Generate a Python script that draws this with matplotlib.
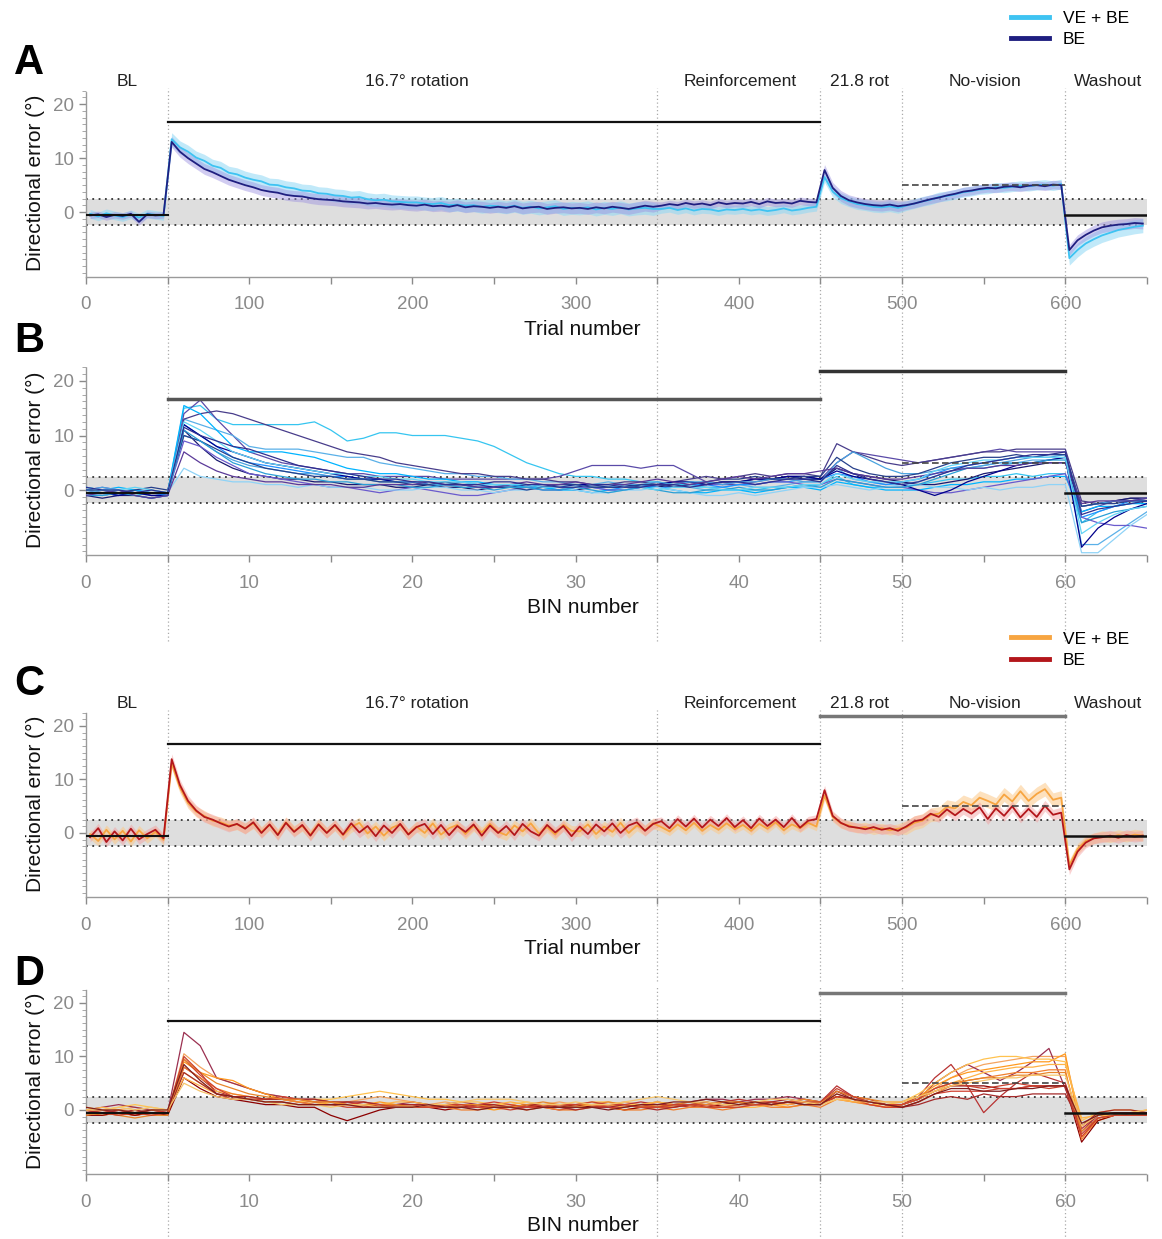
import matplotlib.pyplot as plt
from matplotlib.lines import Line2D
from matplotlib.ticker import MultipleLocator
import numpy as np

plt.rcParams['font.family'] = ['Liberation Sans', 'DejaVu Sans']

# =========================
# DATA
# =========================

# panels A / C : group means, one value per 5 trials (trial 0..650)
trial_x = np.arange(130) * 5 + 2.5
phase_edges = [0, 50, 350, 450, 500, 600, 650]

a_ve = [
    -0.3, -0.8, -0.2, -0.6, -0.9, -0.4, -1.0, -0.3, -0.5, -0.7,
    13.5, 12.0, 11.2, 10.1, 9.5, 8.6, 8.2, 7.3, 7.0, 6.4,
    6.0, 5.7, 5.1, 5.0, 4.6, 4.4, 4.0, 3.9, 3.5, 3.4,
    3.1, 3.0, 2.7, 2.8, 2.4, 2.2, 2.3, 2.0, 1.9, 1.8,
    1.8, 1.6, 1.5, 1.7, 1.3, 1.4, 1.2, 1.3, 1.0, 1.2,
    1.1, 0.9, 1.2, 0.8, 1.0, 0.7, 0.9, 1.1, 0.6, 0.8,
    0.7, 0.9, 0.5, 0.8, 0.6, 0.9, 0.5, 0.7, 0.8, 0.6,
    0.6, 0.8, 0.4, 0.7, 0.3, 0.6, 0.5, 0.2, 0.5, 0.4,
    0.6, 0.3, 0.5, 0.2, 0.4, 0.7, 0.3, 0.5, 0.8, 1.0,
    6.5, 3.8, 2.6, 2.0, 1.5, 1.3, 1.0, 0.9, 1.1, 0.8,
    1.2, 1.6, 2.0, 2.3, 2.8, 3.0, 3.3, 3.7, 3.9, 4.2,
    4.3, 4.6, 4.5, 4.7, 4.9, 4.8, 5.0, 5.1, 4.9, 5.2,
    -8.5, -7.0, -5.8, -5.0, -4.3, -3.8, -3.3, -3.0, -2.7, -2.5,
]
a_be = [
    -0.6, -0.4, -0.9, -0.5, -0.7, -0.3, -1.8, -0.4, -0.6, -0.5,
    13.0, 11.2, 10.0, 9.0, 8.0, 7.4, 6.7, 6.0, 5.5, 5.0,
    4.6, 4.1, 3.8, 3.6, 3.2, 3.0, 2.9, 2.6, 2.4, 2.3,
    2.2, 2.0, 1.9, 1.8, 1.6, 1.7, 1.5, 1.4, 1.5, 1.3,
    1.2, 1.4, 1.1, 1.2, 1.0, 1.3, 0.9, 1.1, 1.0, 0.8,
    1.0, 0.8, 1.1, 0.7, 0.9, 1.0, 0.6, 0.8, 0.9, 0.7,
    0.8, 0.6, 0.9, 0.7, 1.0, 0.8, 0.6, 0.9, 1.2, 1.0,
    1.2, 1.5, 1.3, 1.7, 1.4, 1.6, 1.3, 1.8, 1.5, 1.7,
    1.6, 1.9, 1.5, 2.0, 1.7, 1.8, 1.6, 2.1, 1.9, 1.8,
    7.8, 4.5, 3.0, 2.2, 1.8, 1.5, 1.3, 1.2, 1.4, 1.1,
    1.3, 1.6, 2.0, 2.4, 2.7, 3.1, 3.4, 3.8, 4.0, 4.3,
    4.5, 4.4, 4.7, 4.8, 4.6, 4.9, 5.0, 4.8, 5.1, 5.0,
    -7.0, -5.2, -4.2, -3.4, -2.8, -2.5, -2.3, -2.2, -2.0, -2.1,
]
c_ve = [
    -0.2, -1.5, 0.6, -1.2, 0.4, -1.6, 0.5, -1.0, 0.2, -1.3,
    13.0, 8.5, 5.6, 4.0, 3.2, 2.3, 2.0, 1.4, 1.6, 0.9,
    1.8, 0.2, 1.5, -0.2, 2.0, 0.4, 1.3, -0.3, 1.7, 0.1,
    1.4, -0.4, 1.1, 1.9, -0.1, 1.2, -0.5, 1.0, 1.6, -0.2,
    1.2, 0.0, 1.8, -0.3, 0.9, 1.5, -0.2, 1.3, 0.1, 1.7,
    0.2, -0.4, 1.4, 0.3, 1.8, -0.1, 1.1, -0.3, 1.5, 0.4,
    0.3, 1.6, -0.2, 1.2, 0.2, 1.9, 0.0, 1.4, 0.5, 1.8,
    1.1, 0.3, 1.6, 0.5, 1.9, 0.4, 1.5, 0.6, 1.8, 0.7,
    1.5, 0.4, 1.7, 0.8, 2.0, 0.5, 1.6, 0.9, 1.9, 1.2,
    7.0, 3.0, 1.8, 1.4, 0.9, 1.1, 0.6, 0.9, 0.5, 0.8,
    1.0, 1.9, 2.3, 3.4, 3.6, 4.9, 4.6, 5.8, 5.2, 6.6,
    6.0, 5.3, 7.2, 5.9, 7.8, 6.0, 7.3, 8.2, 6.2, 6.6,
    -6.0, -3.0, -1.5, -1.0, -0.6, -0.8, -0.4, -0.7, -0.3, -0.5,
]
c_be = [
    -0.8, 0.9, -1.7, 0.3, -1.4, 0.8, -1.2, -0.2, 0.6, -1.0,
    13.8, 9.0, 6.0, 4.2, 3.0, 2.5, 1.8, 1.2, 1.7, 0.8,
    2.0, 0.0, 1.6, -0.4, 1.9, 0.2, 1.5, -0.5, 1.6, 0.0,
    1.5, -0.3, 1.8, 0.1, 1.3, -0.6, 1.4, 0.0, 1.7, -0.3,
    1.1, 1.7, -0.2, 1.5, -0.4, 1.3, 0.2, 1.6, -0.5, 1.4,
    0.0, 1.3, -0.4, 1.7, 0.3, -0.5, 1.5, 0.1, 1.3, -0.6,
    1.2, -0.2, 1.6, 0.3, 1.8, 0.0, 1.4, 2.0, 0.4, 1.7,
    2.2, 0.9, 2.6, 1.2, 2.7, 1.0, 2.5, 1.3, 2.8, 1.1,
    2.4, 0.9, 2.7, 1.3, 2.5, 1.1, 2.8, 1.0, 2.3, 2.6,
    8.0, 3.2, 1.9, 1.2, 1.0, 0.7, 1.1, 0.6, 0.9, 0.4,
    1.2, 2.2, 2.5, 3.6, 3.0, 4.4, 3.3, 4.5, 3.6, 4.8,
    2.6, 4.6, 3.2, 5.0, 2.9, 4.5, 3.0, 5.1, 3.4, 3.8,
    -6.8, -3.5, -1.8, -1.0, -0.8, -0.5, -0.9, -0.4, -0.7, -0.5,
]
# standard error per phase (BL, rot, reinf, 21.8, no-vision, washout)
a_se_ve = [0.8, 1.2, 0.8, 1.0, 0.9, 1.3]
a_se_be = [0.6, 1.0, 0.7, 1.0, 0.8, 1.0]
c_se_ve = [0.9, 1.0, 0.8, 0.9, 1.3, 1.0]
c_se_be = [0.9, 1.0, 0.8, 0.9, 1.0, 1.0]

# panels B / D : single subjects, one value per bin (bin 0..65)
bins = np.arange(66)

b_ve = [
    [-0.5, 0, -0.5, -1, -0.5, -0.5, 15, 15.5, 13, 12,
     12, 12, 12, 12, 12.5, 11, 9, 9.5, 10.5, 10.5,
     10, 10, 10, 9.5, 9, 8, 6.5, 5, 4, 3,
     2.5, 2.5, 2, 2, 1.5, 1.5, 1, 1, 0.5, 0.5,
     0, 0, 0.5, 0.5, 0.5, 1, 2.5, 1, 0.5, 0.5,
     0.5, 1, 1.5, 2, 2, 2.5, 2.5, 3, 2.5, 3,
     3, -6, -4, -3, -2.5, -2],
    [0, -0.5, 0, -0.5, -1, -1, 13, 12, 11, 10,
     8, 7.5, 7.5, 7.5, 7, 6.5, 6, 6, 5, 4.5,
     4, 3.5, 3, 3, 2.5, 2.5, 2, 2, 1.5, 1.5,
     1, 1, 1.5, 1, 0.5, 0.5, 1, 0.5, 0, 0.5,
     1, 0.5, 0.5, 1, 1.5, 1.5, 4, 2, 1.5, 1,
     1, 1.5, 2.5, 3.5, 4, 4.5, 5, 5, 5.5, 5.5,
     6, -10, -10, -8, -6, -4],
    [-1, -0.5, -1, 0, -0.5, -1, 12, 10, 8, 6,
     5, 4.5, 4, 3.5, 3, 2.5, 2.5, 2, 2, 1.5,
     1.5, 1, 1, 1, 0.5, 0.5, 1, 1, 0.5, 0,
     0.5, 0.5, 0, 0.5, 1, 0.5, 0.5, 1, 1, 0.5,
     1, 1, 1.5, 1.5, 2, 2, 3, 2.5, 1.5, 1,
     1.5, 2, 3, 4, 4.5, 5, 5.5, 6, 6, 6.5,
     6.5, -5, -4, -3, -2, -2],
    [0.5, 0, 0.5, 0, -0.5, -0.5, 15.5, 14, 11, 8,
     7, 7, 7, 6.5, 6, 5, 4, 3.5, 3, 3,
     2.5, 2, 2, 1.5, 1.5, 1, 1, 0.5, 0.5, 0,
     0, -0.5, 0, 0, 0.5, 0.5, 0, -0.5, -0.5, 0,
     0, -0.5, 0, 0.5, 0.5, 0, 1.5, 1, 0.5, 0,
     0, 0, 0.5, 1, 1, 1.5, 1.5, 2, 2, 2.5,
     2.5, -4, -3, -3, -2.5, -2.5],
    [-0.5, -1, -0.5, -0.5, 0, -0.5, 4, 2.5, 2, 1.5,
     1.5, 1, 1, 0.5, 1, 0.5, 0.5, 0.5, 0, 0,
     0, 0.5, 0.5, 0, 0, -0.5, 0, 0, 0.5, 0.5,
     0, -0.5, -0.5, 0, 0, 0.5, 0, -0.5, -1, -1,
     -0.5, -1, -0.5, 0, 0.5, 0.5, 1, 0.5, 0, 0.5,
     1, 1, 0.5, 0.5, 0, 0.5, 0, 0.5, 0.5, 1,
     1, -11.5, -11.5, -9, -6.5, -4.5],
    [0, 0.5, 0, -0.5, 0, -0.5, 10, 9, 7, 5.5,
     4.5, 4, 3.5, 3, 3, 2.5, 2, 2, 1.5, 1.5,
     1.5, 1, 1, 1.5, 1, 1, 0.5, 0.5, 1, 1,
     1, 0.5, 0.5, 1, 1, 1.5, 1, 1.5, 1.5, 1,
     1.5, 1.5, 2, 2, 1.5, 1.5, 5, 7, 5.5, 4,
     3, 3, 3.5, 4, 4, 4.5, 5, 5.5, 6, 6,
     6.5, -3, -2.5, -2, -2, -1.5],
    [-1, -1, -0.5, -1, -1.5, -1, 11, 9, 7, 5,
     4, 3, 2.5, 2, 2, 1.5, 1.5, 1, 1, 1,
     0.5, 0.5, 1, 0.5, 0.5, 0, 0.5, 0.5, 0, 0,
     0.5, 0, -0.5, 0, 0.5, 0, -0.5, -0.5, 0, 0,
     0.5, 0, 0, 0.5, 1, 0.5, 2, 1.5, 1, 0.5,
     0.5, 1, 2, 3, 4, 4, 4.5, 5, 5, 5.5,
     5.5, -6, -5, -4, -3.5, -3],
    [0.5, 0, 0, 0.5, 0, -0.5, 12.5, 11, 9, 7,
     6, 5, 4.5, 4, 3.5, 3, 3, 2.5, 2.5, 2,
     2, 1.5, 1.5, 1.5, 1, 1, 1, 1, 0.5, 0.5,
     0.5, 1, 1, 0.5, 0.5, 0, 0.5, 0.5, 0.5, 0,
     0, 0.5, 0.5, 0.5, 1, 1, 3, 2, 1.5, 1.5,
     1.5, 2, 3.5, 4.5, 5, 5.5, 5.5, 6, 6, 6,
     6, -8, -6, -4.5, -3.5, -3],
]
b_be = [
    [0, -0.5, -1, -0.5, -0.5, -1, 14, 16.5, 13, 10,
     7, 6, 5, 4.5, 4, 3.5, 3, 3, 2.5, 2.5,
     2.5, 2.5, 2, 2, 2, 2, 2, 2, 2, 2.5,
     3.5, 4.5, 4.5, 4.5, 4, 4.5, 4.5, 3, 1.5, 1,
     1, 1.5, 2, 2.5, 2.5, 2, 5, 7, 6.5, 6,
     5.5, 5, 5.5, 6, 6.5, 7, 7.5, 7, 7, 7,
     7, -4, -3, -2, -2, -1.5],
    [-0.5, -1, -0.5, 0, -1, -1, 13, 14, 14.5, 14,
     13, 12, 11, 10, 9, 8, 7, 6.5, 6, 5,
     4.5, 4, 3.5, 3, 3, 2.5, 2.5, 2, 2, 1.5,
     1.5, 1, 1, 1.5, 1.5, 1, 1.5, 2, 2.5, 2,
     2.5, 3, 2.5, 3, 3, 2.5, 8.5, 7, 6, 5,
     4.5, 5, 5.5, 6, 6.5, 7, 7, 7.5, 7.5, 7.5,
     7.5, -2, -2.5, -2, -1.5, -1.5],
    [-1, -1.5, -1, -1, -1.5, -1, 11, 8, 5.5, 4,
     3, 2.5, 2, 2, 1.5, 1.5, 1, 1, 1, 0.5,
     0.5, 1, 0.5, 0.5, 0, 0.5, 0.5, 1, 0.5, 0.5,
     0, 0.5, 0.5, 1, 0.5, 0.5, 1, 1.5, 1, 1.5,
     1.5, 2, 2, 2.5, 2, 2, 4, 3, 2.5, 2,
     1.5, 1, 1, 1.5, 2, 3, 3.5, 4, 4.5, 5,
     5, -3, -2.5, -2, -1.5, -1.5],
    [0, 0.5, 0, -0.5, -0.5, -0.5, 9, 8, 6, 4.5,
     3, 2.5, 2, 1.5, 1, 0.5, 0.5, 0, -0.5, 0,
     0.5, 0, -0.5, -1, -1, -0.5, 0, 0.5, 0, 0,
     0.5, 0.5, 0, 0, 0.5, 1, 0.5, 0.5, 1, 1,
     1.5, 1, 1.5, 1.5, 1, 1, 2, 1.5, 1, 0.5,
     0.5, 0, -0.5, -0.5, 0, 0.5, 1, 1.5, 2, 2.5,
     3, -5, -6, -6.5, -6.5, -7],
    [-0.5, -0.5, -1, -0.5, -1, -1, 12, 10, 8, 7,
     6, 5, 4.5, 4, 3.5, 3, 2.5, 2, 2, 1.5,
     1.5, 1, 1, 1, 1, 0.5, 1, 1, 0.5, 0.5,
     1, 1, 0.5, 0.5, 1, 1, 1.5, 1.5, 1, 1.5,
     1.5, 2, 2, 2.5, 2.5, 2, 3.5, 2.5, 2, 1.5,
     1, 0, -1, 0, 1.5, 2.5, 3.5, 4.5, 5, 5.5,
     6, -10.5, -7, -5, -3.5, -2.5],
    [0, 0, -0.5, 0, 0.5, 0, 10, 9, 7.5, 6,
     5, 4, 3.5, 3, 2.5, 2.5, 2, 2, 1.5, 1.5,
     1, 1, 1.5, 1, 0.5, 0.5, 0.5, 0, 0.5, 1,
     1, 0.5, 0.5, 0.5, 1, 1, 0.5, 1, 1.5, 2,
     2, 2.5, 2, 2, 2.5, 2.5, 6, 4, 3, 2.5,
     2.5, 3, 4, 5, 5.5, 6, 6, 6.5, 6, 6.5,
     6.5, -3, -2.5, -2.5, -2, -2],
    [-1, -0.5, 0, -1, -1.5, -1, 7, 5, 3.5, 2.5,
     2, 1.5, 1.5, 1, 1, 1, 0.5, 0.5, 1, 1,
     1, 1.5, 1, 1, 0.5, 0.5, 1, 1.5, 1, 1,
     1.5, 1, 1, 1, 1.5, 2, 1.5, 1, 1.5, 2,
     2.5, 2, 2.5, 3, 3, 3.5, 4, 3, 2.5, 2,
     2, 2.5, 3, 3.5, 4, 4, 4.5, 4.5, 5, 5,
     5, -2.5, -2, -2, -2, -1.5],
    [0.5, 0, 0, -0.5, 0, -0.5, 11.5, 10, 9, 8,
     7.5, 6.5, 5.5, 4.5, 4, 3.5, 3, 2.5, 2, 2,
     1.5, 1.5, 1, 1, 1, 1.5, 1.5, 1, 1, 0.5,
     0.5, 1, 1, 0.5, 0.5, 1, 1, 0.5, 1, 1.5,
     1.5, 1, 1.5, 2, 2, 1.5, 4.5, 3, 2, 1.5,
     1, 1.5, 2.5, 3.5, 4.5, 5, 5.5, 6, 6.5, 6.5,
     7, -4.5, -3.5, -3, -2.5, -2],
]
d_ve = [
    [0, -0.5, 0, 0.5, 0, -0.5, 10.5, 8, 6, 5,
     4, 3, 2.5, 2, 2, 1.5, 1.5, 2, 2.5, 2,
     1.5, 1, 1.5, 1, 0.5, 1, 1, 0.5, 1, 1.5,
     1, 0.5, 1, 1.5, 1, 0.5, 1, 0.5, 1, 1,
     1.5, 1, 1, 1.5, 1, 1, 3, 2, 1.5, 1,
     1, 2, 4, 6, 7.5, 8.5, 9, 9.5, 10, 10,
     10, -3, -1, -0.5, -0.5, -0.5],
    [-0.5, -1, -0.5, -1, -0.5, -0.5, 9, 7, 6, 5.5,
     4, 3, 2, 1.5, 1.5, 1, 1, 1, 1.5, 1,
     1, 0.5, 1, 1, 0.5, 0, 0.5, 1, 0.5, 0.5,
     0.5, 1, 0.5, 0, 0.5, 1, 0.5, 1, 0.5, 0.5,
     1, 1.5, 1, 0.5, 1, 1.5, 2.5, 2, 1, 0.5,
     1, 2.5, 4.5, 6, 7, 7.5, 8, 8.5, 9, 9,
     10.5, -5, -2, -1, -0.5, 0],
    [0.5, 0, 0.5, 1, 0.5, 0, 7, 5, 3.5, 3,
     2.5, 2, 2, 1.5, 2, 2, 2.5, 3, 3.5, 3,
     2.5, 2, 2, 1.5, 1.5, 1, 1, 1.5, 1, 1,
     1, 1.5, 1.5, 1, 1, 1.5, 1, 1, 1.5, 1,
     1, 1.5, 1.5, 1, 1.5, 1.5, 2.5, 1.5, 1, 1,
     1.5, 3, 5, 7, 8.5, 9.5, 10, 10, 9.5, 9.5,
     9, -2, -0.5, 0, 0, -0.5],
    [-0.5, -0.5, -1, -0.5, -1, -0.5, 8, 6, 4, 3,
     2.5, 2, 2, 1.5, 1, 1, 1, 0.5, 0.5, 1,
     1, 0.5, 0.5, 0, 0, 0.5, 0.5, 0, 0.5, 0,
     0, 0.5, 0.5, 0, 0, 0.5, 0, 0.5, 0.5, 0,
     0.5, 1, 0.5, 0.5, 1, 0.5, 2, 1.5, 1, 0.5,
     0.5, 1.5, 3, 4.5, 5.5, 6, 6.5, 7, 7, 7.5,
     7.5, -5.5, -1.5, -1, -1, -0.5],
    [0, 0.5, 0, -0.5, 0, 0, 6, 4.5, 3, 2.5,
     2, 1.5, 1.5, 1, 1, 1.5, 1, 1, 1, 1.5,
     1.5, 1, 1, 0.5, 1, 1, 1.5, 1, 1, 0.5,
     0.5, 1, 1, 0.5, 1, 1.5, 1, 1, 0.5, 0.5,
     0.5, 0.5, 1, 1, 1.5, 1, 2, 1.5, 1.5, 1,
     1, 2, 3.5, 5, 6, 7, 7.5, 8, 8, 8.5,
     8.5, -1.5, -1, -1, -0.5, -0.5],
    [-1, -0.5, -1, -1.5, -1, -1, 9.5, 7, 5, 4,
     3, 2.5, 2, 2, 1.5, 1.5, 1, 1, 1, 1,
     0.5, 0.5, 1, 1, 1, 0.5, 0.5, 1, 1.5, 1,
     1, 1, 1.5, 1, 0.5, 0.5, 1, 1.5, 1, 1.5,
     1.5, 1, 1, 1.5, 2, 1.5, 3.5, 2.5, 2, 1.5,
     1.5, 2.5, 4, 5, 5.5, 6, 6, 6.5, 6.5, 7,
     7, -4, -1.5, -1, -1, -1],
    [0, 0, 0.5, 0, 0.5, 0, 5, 3.5, 2.5, 2,
     2, 1.5, 1, 1, 1, 0.5, 1, 1, 0.5, 0.5,
     0.5, 1, 1, 1.5, 2, 2, 2, 1.5, 1, 1,
     1.5, 1, 1, 1.5, 2, 2.5, 2, 1.5, 1.5, 1,
     1, 1.5, 2, 2, 1.5, 1, 2, 2, 1.5, 1.5,
     1.5, 2.5, 3.5, 4.5, 5, 5.5, 6, 6, 6.5, 6.5,
     6.5, -3, -1, -0.5, -0.5, 0],
]
d_be = [
    [0, 0.5, 1, 0.5, 0, -0.5, 14.5, 12, 6, 5,
     4, 3, 2.5, 2, 2, 1.5, 1, 1, 0.5, 1,
     1.5, 1, 1, 1.5, 1, 1, 0.5, 0.5, 1, 1,
     0.5, 1, 1, 0.5, 1, 1.5, 1, 1.5, 2, 2,
     1.5, 2, 2, 2.5, 2, 1.5, 3.5, 2.5, 1.5, 1,
     1, 2, 5, 7, 8.5, 7, 5.5, 7, 9, 11.5,
     4, -4, -1, -0.5, -1, -0.5],
    [-0.5, 0, -0.5, -1, -0.5, -1, 8, 6, 3.5, 2.5,
     2, 2, 2, 1.5, 1, 1, 1.5, 1, 1, 0.5,
     0.5, 1, 1, 0.5, 0.5, 1, 1, 0.5, 0.5, 0,
     0.5, 0.5, 1, 1, 1.5, 1, 1, 0.5, 1, 1.5,
     2, 1.5, 1, 1.5, 2, 1.5, 4.5, 2.5, 2, 1,
     1, 2.5, 6, 8.5, 4.5, -0.5, 2.5, 5, 7, 6,
     5, -3.5, -1, -0.5, -0.5, -1],
    [-1, -1, -0.5, -1, -0.5, -1, 6, 4, 2.5, 2,
     1.5, 1, 1, 0.5, 0.5, -1, -2, -1, 0, 0.5,
     0.5, 0.5, 0, 0.5, 1, 0.5, 0.5, 1, 0.5, 0.5,
     1, 0.5, 0.5, 0, 0.5, 0.5, 1, 1, 0.5, 1,
     1.5, 1, 1, 1.5, 1, 1, 2.5, 2, 1.5, 1,
     1, 2, 3.5, 4.5, 4.5, 4.5, 4, 4, 4.5, 4.5,
     4.5, -6, -2, -1, -0.5, -0.5],
    [0, -0.5, 0, -0.5, 0, -0.5, 9.5, 6.5, 4, 2.5,
     2, 2, 2.5, 2, 1.5, 1.5, 1, 1.5, 1, 1,
     1, 0.5, 0.5, 1, 1, 1.5, 1, 0.5, 0.5, 1,
     1, 1, 0.5, 0.5, 1, 0.5, 0.5, 1, 1, 0.5,
     1, 1.5, 1.5, 1, 1.5, 1, 2.5, 2, 1, 0.5,
     0.5, 1.5, 3, 3.5, 3.5, 3.5, 4, 4, 4.5, 4.5,
     4.5, -5, -1.5, -1, -0.5, -1],
    [-0.5, 0, -0.5, 0, -0.5, -0.5, 7, 5, 3, 2.5,
     2.5, 2, 2, 2, 2, 1.5, 1.5, 1.5, 1, 1,
     1, 1, 0.5, 0.5, 1, 1, 0.5, 1, 1, 0.5,
     0, 0.5, 0.5, 1, 0.5, 0, 0.5, 1, 1.5, 1,
     1, 1, 1.5, 2, 1.5, 1, 3.5, 2, 1.5, 1,
     0.5, 1, 2, 2.5, 2, 3, 2.5, 2.5, 3, 3,
     3, -3, -0.5, 0, 0, -0.5],
    [-0.5, -0.5, -1, -0.5, -1, -0.5, 10, 7, 3, 2,
     2, 1.5, 1.5, 1, 1, 1, 0.5, 0.5, 1, 0.5,
     0.5, 0.5, 1, 1, 0.5, 0.5, 0, 0.5, 1, 1,
     1, 1.5, 1, 1, 0.5, 0.5, 1, 1, 0.5, 0.5,
     0.5, 1, 1, 1.5, 1.5, 1.5, 4, 2.5, 1.5, 1,
     1, 2, 4, 5, 4.5, 4, 4.5, 5, 4.5, 4,
     4.5, -4.5, -1.5, -1, -1, -1],
    [0.5, 0, 0, -0.5, 0, 0, 8.5, 5.5, 3, 2.5,
     2, 1.5, 1.5, 1, 1, 1, 1, 0.5, 0.5, 0.5,
     0.5, 1, 0.5, 0.5, 0, 0.5, 0.5, 0, 0.5, 0.5,
     0.5, 0.5, 0, 0.5, 1, 1, 1.5, 1.5, 2, 1.5,
     1, 1.5, 1, 1.5, 1, 1, 3, 2, 1.5, 1,
     0.5, 1.5, 3, 4, 4, 3.5, 3.5, 4, 4, 4.5,
     4.5, -2.5, -1, -0.5, -0.5, -0.5],
]

phase_names = ["BL", "16.7° rotation", "Reinforcement", "21.8 rot", "No-vision", "Washout"]
phase_label_x = [25, 203, 401, 474, 551, 626]

# colours
c_ve_blue, c_be_blue = '#3ec3f2', '#1f1f80'
c_ve_org, c_be_red = '#f7a541', '#b3161b'
b_ve_cols = ['#36c5f0', '#5ab0e8', '#1e90ff', '#00b4ff', '#8fd3f7', '#4aa3df', '#2a9fd6', '#62d4f5']
b_be_cols = ['#5a4aa8', '#483d8b', '#191970', '#6a5acd', '#00008b', '#27408b', '#5b3a99', '#2f2f8f']
d_ve_cols = ['#f4a460', '#ff9a1f', '#ffc24f', '#f07f2f', '#ffb347', '#e8862a', '#f6c56b']
d_be_cols = ['#9b3050', '#b83232', '#8b0000', '#d04030', '#a52a2a', '#c8412f', '#7f1d1d']

# =========================
# FIGURE
# =========================

fig = plt.figure(figsize=(11.62, 12.39), dpi=100)
W = 0.913
axA = fig.add_axes([0.074, 0.7764, W, 0.1527])
axB = fig.add_axes([0.074, 0.5517, W, 0.1540])
axC = fig.add_axes([0.074, 0.2759, W, 0.1511])
axD = fig.add_axes([0.074, 0.0523, W, 0.1512])


def setup(ax, scale, xlabel, show21, rot21_col, rot16_col, rot_lw):
    s = scale
    ax.set_xlim(0, 65 * s)
    ax.set_ylim(-12, 23)
    # grey tolerance band
    ax.fill_between([0, 65 * s], -2.4, 2.4, color='#dedede', zorder=0, lw=0)
    ax.plot([0, 65 * s], [2.4, 2.4], ls=(0, (1, 2.5)), color='#333', lw=1.3, zorder=1)
    ax.plot([0, 65 * s], [-2.4, -2.4], ls=(0, (1, 2.5)), color='#333', lw=1.3, zorder=1)
    # phase boundaries
    for xb in [5, 35, 45, 50, 60]:
        ax.plot([xb * s, xb * s], [-0.45, 1.0], transform=ax.get_xaxis_transform(),
                ls=(0, (1, 2)), color='#aaaaaa', lw=0.9, clip_on=False, zorder=0)
    # target lines
    ax.plot([5 * s, 45 * s], [16.7, 16.7], color=rot16_col, lw=rot_lw, zorder=5)
    if show21:
        ax.plot([45 * s, 60 * s], [21.8, 21.8], color=rot21_col, lw=2.5, zorder=5)
    ax.plot([50 * s, 60 * s], [5, 5], color='#444', ls=(0, (4, 2)), lw=1.2, zorder=5)
    ax.plot([0, 5 * s], [-0.5, -0.5], color='#111', lw=1.5, zorder=5)
    ax.plot([60 * s, 65 * s], [-0.5, -0.5], color='#111', lw=1.8, zorder=5)
    # axes styling
    for sp in ['top', 'right']:
        ax.spines[sp].set_visible(False)
    for sp in ['left', 'bottom']:
        ax.spines[sp].set_color('#9a9a9a')
        ax.spines[sp].set_linestyle((0, (1, 1)))
        ax.spines[sp].set_linewidth(1.0)
    ax.spines['left'].set_bounds(-12, 22.5)
    xt = np.arange(0, 66, 5) * s
    ax.set_xticks(xt)
    ax.set_xticklabels([str(int(v)) if (v / s) % 10 == 0 else '' for v in xt])
    ax.set_yticks([0, 10, 20])
    ax.yaxis.set_minor_locator(MultipleLocator(1.25))
    ax.tick_params(axis='both', which='major', colors='#8a8a8a', labelsize=13.5,
                   length=5, width=1)
    ax.tick_params(axis='x', which='major', pad=9)
    ax.tick_params(axis='y', which='minor', colors='#9a9a9a', length=3)
    ax.set_xlabel(xlabel, fontsize=15, color='#111')
    ax.xaxis.set_label_coords(0.468, -0.225)
    ax.set_ylabel("Directional error (°)", fontsize=15, color='#111', labelpad=6)


def phase_se(se_list):
    idx = np.searchsorted(phase_edges[1:-1], trial_x, side='right')
    return np.array(se_list)[idx]


def mean_panel(ax, ve, be, se_ve, se_be, cve, cbe, band_ve, band_be):
    ve = np.array(ve)
    be = np.array(be)
    sv = phase_se(se_ve)
    sb = phase_se(se_be)
    ax.fill_between(trial_x, ve - sv, ve + sv, color=band_ve, alpha=0.55, lw=0, zorder=2)
    ax.fill_between(trial_x, be - sb, be + sb, color=band_be, alpha=0.45, lw=0, zorder=2)
    ax.plot(trial_x, ve, color=cve, lw=1.3, zorder=3)
    ax.plot(trial_x, be, color=cbe, lw=1.3, zorder=4)
    for name, xp in zip(phase_names, phase_label_x):
        ax.text(xp, 1.035, name, transform=ax.get_xaxis_transform(),
                ha='center', va='center', fontsize=12.5, color='#222')


# A
setup(axA, 10, "Trial number", False, '#333', '#111', 1.6)
mean_panel(axA, a_ve, a_be, a_se_ve, a_se_be, c_ve_blue, c_be_blue, '#8fd8f5', '#9a8fe0')

# B
setup(axB, 1, "BIN number", True, '#333', '#555', 2.5)
for i in range(len(b_ve)):
    axB.plot(bins, b_ve[i], color=b_ve_cols[i], lw=0.9, zorder=3)
    axB.plot(bins, b_be[i], color=b_be_cols[i], lw=0.9, zorder=3)

# C
setup(axC, 10, "Trial number", True, '#777', '#111', 1.6)
mean_panel(axC, c_ve, c_be, c_se_ve, c_se_be, c_ve_org, c_be_red, '#fcc98a', '#f29a9a')

# D
setup(axD, 1, "BIN number", True, '#777', '#111', 1.6)
for i in range(len(d_ve)):
    axD.plot(bins, d_ve[i], color=d_ve_cols[i], lw=0.9, zorder=3)
    axD.plot(bins, d_be[i], color=d_be_cols[i], lw=0.9, zorder=3)

# panel letters
for lab, yy in zip("ABCD", [0.949, 0.725, 0.448, 0.214]):
    fig.text(0.012, yy, lab, fontsize=30, fontweight='bold', color='#000', va='center')

# legends
h1 = [Line2D([], [], color=c_ve_blue, lw=3.5), Line2D([], [], color=c_be_blue, lw=3.5)]
fig.legend(h1, ["VE + BE", "BE"], loc='upper right', bbox_to_anchor=(0.985, 1.004),
           frameon=False, fontsize=12.5, handlelength=2.2, labelspacing=0.35)
h2 = [Line2D([], [], color=c_ve_org, lw=3.5), Line2D([], [], color=c_be_red, lw=3.5)]
fig.legend(h2, ["VE + BE", "BE"], loc='upper right', bbox_to_anchor=(0.985, 0.503),
           frameon=False, fontsize=12.5, handlelength=2.2, labelspacing=0.35)

plt.savefig("out.png", dpi=100)
